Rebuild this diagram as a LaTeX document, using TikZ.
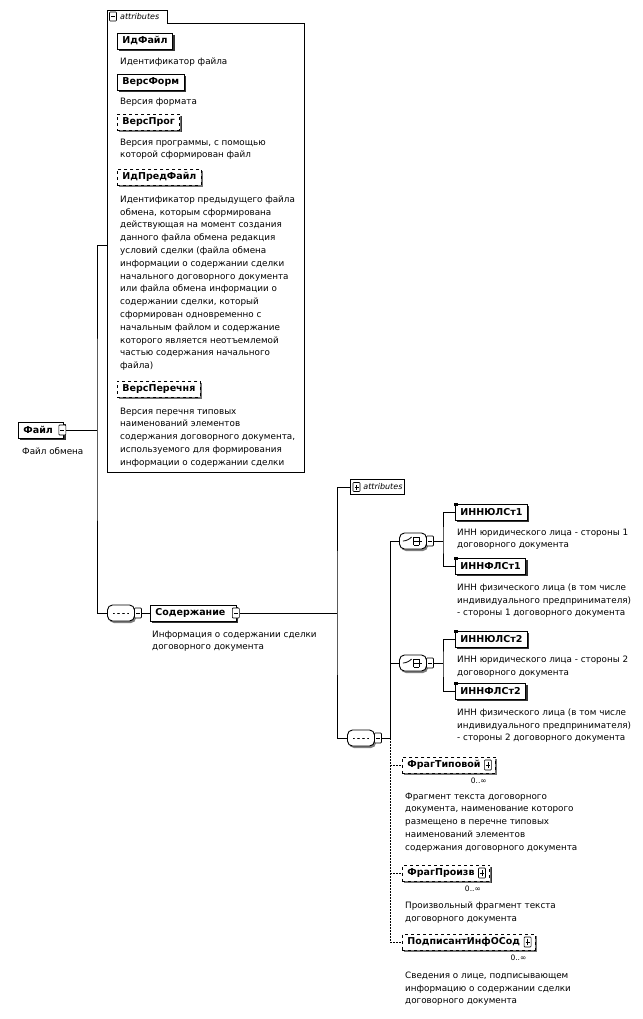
\documentclass[tikz,border=0pt]{standalone}
\usepackage{fontspec}
\setmainfont{DejaVu Sans}
\usetikzlibrary{shadows}

\tikzset{
  elem/.style={draw, line width=0.9pt, fill=white, anchor=west, inner xsep=5pt, inner ysep=0pt,
    minimum height=16pt, font=\fontsize{9.5}{11}\selectfont\bfseries,
    drop shadow={shadow xshift=2pt, shadow yshift=-2pt, fill=black!80, opacity=1}},
  optelem/.style={elem, dashed, inner xsep=5pt,
    drop shadow={shadow xshift=1.5pt, shadow yshift=-2pt, fill=black!55, opacity=1}},
  desc/.style={anchor=north west, align=left, inner sep=0pt, font=\fontsize{8.8}{12.8}\selectfont},
  occurs/.style={anchor=north east, inner sep=0pt, font=\fontsize{7.5}{9}\selectfont},
  tabtext/.style={anchor=west, inner sep=0pt, font=\fontsize{8}{9}\selectfont\itshape},
  minusicon/.style={draw, fill=white, line width=0.6pt, minimum width=7pt, minimum height=10pt,
    inner sep=0pt, rounded corners=0.8pt,
    path picture={\draw ([xshift=1.5pt]path picture bounding box.west) -- ([xshift=-1.5pt]path picture bounding box.east);}},
  plusicon/.style={minusicon,
    path picture={\draw ([xshift=1.5pt]path picture bounding box.west) -- ([xshift=-1.5pt]path picture bounding box.east);
      \draw ([yshift=2pt]path picture bounding box.south) -- ([yshift=-2pt]path picture bounding box.north);}},
  comp/.style={rectangle, rounded corners=5pt, draw, line width=0.9pt, fill=white,
    minimum width=27pt, minimum height=16pt, inner sep=0pt,
    drop shadow={shadow xshift=1.5pt, shadow yshift=-2pt, fill=black!50, opacity=1}},
  seqcomp/.style={comp,
    path picture={\draw[line width=0.6pt] ([xshift=-8pt]path picture bounding box.center) -- ([xshift=8pt]path picture bounding box.center);
      \foreach \dx in {-5,0,5} \fill ([xshift=\dx pt]path picture bounding box.center) circle (1.6pt);}},
  choicecomp/.style={comp,
    path picture={\coordinate (c) at (path picture bounding box.center);
      \draw[line width=0.8pt] ([xshift=-9pt]c) -- ([xshift=-5pt]c) -- ([xshift=-1.5pt,yshift=4pt]c);
      \draw[line width=0.8pt] ([xshift=0.5pt,yshift=-4pt]c) -- ([xshift=0.5pt,yshift=4pt]c);
      \foreach \dy in {-4,0,4} \draw[line width=0.8pt] ([xshift=0.5pt,yshift=\dy pt]c) -- ([xshift=6pt,yshift=\dy pt]c);
      \draw[line width=0.8pt] ([xshift=6pt,yshift=-4pt]c) -- ([xshift=6pt,yshift=4pt]c);
      \draw[line width=0.8pt] ([xshift=6pt]c) -- ([xshift=9pt]c);}},
  link/.style={line width=0.8pt},
  optlink/.style={line width=0.8pt, dash pattern=on 1.5pt off 1.5pt}
}

\begin{document}
\begin{tikzpicture}[x=1pt, y=-1pt]
\useasboundingbox (0,0) rectangle (642,1019);

% attributes of Файл
\draw[line width=0.8pt] (107,472) -- (107,10) -- (167,10) -- (167,23) -- (304,23) -- (304,472) -- cycle;
\node[minusicon, minimum height=9pt] (tabicon1) at (113,16.5) {};
\node[tabtext] (tab1) at (120,16.5) {attributes};
\coordinate (attrin) at (107,245);

\node[elem] (idfile) at (117,41) {ИдФайл};
\node[desc] (didfile) at (120,57.5) {Идентификатор файла};
\node[elem] (versform) at (117,82) {ВерсФорм};
\node[desc] (dversform) at (120,97.5) {Версия формата};
\node[optelem] (versprog) at (117,122) {ВерсПрог};
\node[desc] (dversprog) at (120,138.5) {Версия программы, с помощью\\которой сформирован файл};
\node[optelem] (idprev) at (117,177) {ИдПредФайл};
\node[desc] (didprev) at (120,195.5) {Идентификатор предыдущего файла\\обмена, которым сформирована\\действующая на момент создания\\данного файла обмена редакция\\условий сделки (файла обмена\\информации о содержании сделки\\начального договорного документа\\или файла обмена информации о\\содержании сделки, который\\сформирован одновременно с\\начальным файлом и содержание\\которого является неотъемлемой\\частью содержания начального\\файла)};
\node[optelem] (verslist) at (117,389) {ВерсПеречня};
\node[desc] (dverslist) at (120,407.5) {Версия перечня типовых\\наименований элементов\\содержания договорного документа,\\используемого для формирования\\информации о содержании сделки};

% root
\node[elem] (file) at (18,430) {Файл\hspace*{6pt}};
\node[minusicon] (fileicon) at ([xshift=-2pt]file.east) {};
\node[desc] (dfile) at (22,447.5) {Файл обмена};
\coordinate (bus1) at (97,430);

% Содержание
\node[seqcomp] (seq1) at (121,613) {};
\node[minusicon] (seq1icon) at ([xshift=3pt]seq1.east) {};
\node[elem] (cont) at (150,613) {Содержание\hspace*{6pt}};
\node[minusicon] (conticon) at ([xshift=-1pt]cont.east) {};
\node[desc] (dcont) at (152,630.5) {Информация о содержании сделки\\договорного документа};
\coordinate (bus2) at (337,613);

\node[draw, line width=0.8pt, fill=white, anchor=west, inner xsep=2pt, minimum height=15pt,
  font=\fontsize{8}{9}\selectfont\itshape] (attr2) at (350,487) {\hspace*{11pt}attributes};
\node[plusicon, minimum height=9pt] (attr2icon) at ([xshift=6.5pt]attr2.west) {};

\node[seqcomp] (seq2) at (361,738) {};
\node[minusicon] (seq2icon) at ([xshift=3pt]seq2.east) {};
\coordinate (bus3) at (390,738);

% choices
\node[choicecomp] (ch1) at (413,541) {};
\node[minusicon] (ch1icon) at ([xshift=3pt]ch1.east) {};
\coordinate (bus4) at (443,541);
\node[choicecomp] (ch2) at (413,663) {};
\node[minusicon] (ch2icon) at ([xshift=3pt]ch2.east) {};
\coordinate (bus5) at (443,663);

\node[elem] (inn1) at (455,512) {ИННЮЛСт1};
\node[desc] (dinn1) at (457,528.5) {ИНН юридического лица - стороны 1\\договорного документа};
\node[elem] (innf1) at (455,566) {ИННФЛСт1};
\node[desc] (dinnf1) at (457,583.5) {ИНН физического лица (в том числе\\индивидуального предпринимателя)\\- стороны 1 договорного документа};
\node[elem] (inn2) at (455,639) {ИННЮЛСт2};
\node[desc] (dinn2) at (457,655.5) {ИНН юридического лица - стороны 2\\договорного документа};
\node[elem] (innf2) at (455,691) {ИННФЛСт2};
\node[desc] (dinnf2) at (457,708.5) {ИНН физического лица (в том числе\\индивидуального предпринимателя)\\- стороны 2 договорного документа};
\foreach \n in {inn1,innf1,inn2,innf2}
  \fill (\n.north west) ++(-1,-1) rectangle ++(4,3);

% optional elements
\node[optelem] (frag1) at (402,765) {ФрагТиповой\hspace*{10pt}};
\node[plusicon] (frag1icon) at ([xshift=-8pt]frag1.east) {};
\node[occurs] (occ1) at ([xshift=-9pt,yshift=-4pt]frag1.south east) {0..∞};
\node[desc] (dfrag1) at (405,792.5) {Фрагмент текста договорного\\документа, наименование которого\\размещено в перечне типовых\\наименований элементов\\содержания договорного документа};
\node[optelem] (frag2) at (402,873) {ФрагПроизв\hspace*{10pt}};
\node[plusicon] (frag2icon) at ([xshift=-8pt]frag2.east) {};
\node[occurs] (occ2) at ([xshift=-9pt,yshift=-4pt]frag2.south east) {0..∞};
\node[desc] (dfrag2) at (405,901.5) {Произвольный фрагмент текста\\договорного документа};
\node[optelem] (sign) at (402,942) {ПодписантИнфОСод\hspace*{10pt}};
\node[plusicon] (signicon) at ([xshift=-8pt]sign.east) {};
\node[occurs] (occ3) at ([xshift=-9pt,yshift=-4pt]sign.south east) {0..∞};
\node[desc] (dsign) at (405,971.5) {Сведения о лице, подписывающем\\информацию о содержании сделки\\договорного документа};

% connectors
\draw[link] (fileicon.east) -- (bus1);
\draw[link] (attrin) -| (bus1) |- (seq1.west);
\draw[link] (seq1icon.east) -- (cont.west);
\draw[link] (conticon.east) -- (bus2);
\draw[link] (attr2.west) -| (bus2) |- (seq2.west);
\draw[link] (seq2icon.east) -- (bus3);
\draw[link] (ch1.west) -| (bus3);
\draw[link] (ch2.west) -- (ch2.west -| bus3);
\draw[optlink] (bus3) |- (frag1.west);
\draw[optlink] (bus3) |- (frag2.west);
\draw[optlink] (bus3) |- (sign.west);
\draw[link] (ch1icon.east) -- (bus4);
\draw[link] (inn1.west) -| (bus4) |- (innf1.west);
\draw[link] (ch2icon.east) -- (bus5);
\draw[link] (inn2.west) -| (bus5) |- (innf2.west);

\end{tikzpicture}
\end{document}
